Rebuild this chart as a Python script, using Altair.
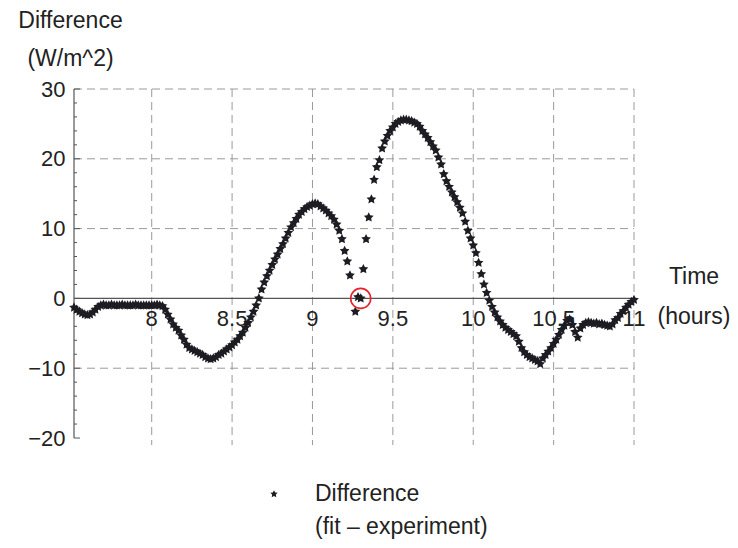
import altair as alt
import pandas as pd

# ---------------- data ----------------
# sample times, minutes after 7:00 (one sample per minute, 7:31 .. 11:00)
minutes = [
    31, 32, 33, 34, 35, 36, 37, 38, 39, 40, 41, 42, 43, 44, 45, 46, 47, 48, 49, 50,
    51, 52, 53, 54, 55, 56, 57, 58, 59, 60, 61, 62, 63, 64, 65, 66, 67, 68, 69, 70,
    71, 72, 73, 74, 75, 76, 77, 78, 79, 80, 81, 82, 83, 84, 85, 86, 87, 88, 89, 90,
    91, 92, 93, 94, 95, 96, 97, 98, 99, 100, 101, 102, 103, 104, 105, 106, 107, 108, 109, 110,
    111, 112, 113, 114, 115, 116, 117, 118, 119, 120, 121, 122, 123, 124, 125, 126, 127, 128, 129, 130,
    131, 132, 133, 134, 136, 137, 138, 139, 140, 141, 142, 143, 144, 145, 146, 147, 148, 149, 150,
    151, 152, 153, 154, 155, 156, 157, 158, 159, 160, 161, 162, 163, 164, 165, 166, 167, 168, 169, 170,
    171, 172, 173, 174, 175, 176, 177, 178, 179, 180, 181, 182, 183, 184, 185, 186, 187, 188, 189, 190,
    191, 192, 193, 194, 195, 196, 197, 198, 199, 200, 201, 202, 203, 204, 205, 206, 207, 208, 209, 210,
    211, 212, 213, 214, 215, 216, 217, 218, 219, 220, 221, 222, 223, 224, 225, 226, 227, 228, 229, 230,
    231, 232, 233, 234, 235, 236, 237, 238, 239, 240,
]
# difference (fit - experiment), W/m^2
difference = [
    -1.3, -1.6, -1.9, -2.1, -2.3, -2.4, -2.3, -2.0, -1.6, -1.2, -1.0, -0.9, -1.0, -1.0, -0.9, -1.0, -1.0, -1.0, -0.9, -1.0,
    -1.0, -1.0, -1.0, -0.9, -1.0, -1.0, -1.0, -1.0, -1.0, -1.0, -1.0, -0.9, -1.0, -1.1, -1.6, -2.3, -3.0, -3.7, -4.2, -4.6,
    -5.3, -5.9, -6.6, -7.1, -7.3, -7.5, -7.7, -7.9, -8.1, -8.4, -8.6, -8.7, -8.6, -8.4, -8.1, -7.9, -7.6, -7.3, -7.0, -6.7,
    -6.3, -5.9, -5.4, -4.9, -4.2, -3.5, -2.7, -1.9, -1.0, 0.0, 1.3, 2.3, 3.2, 4.0, 4.8, 5.6, 6.3, 7.1, 7.8, 8.6,
    9.4, 10.2, 10.8, 11.4, 12.0, 12.4, 12.8, 13.1, 13.3, 13.5, 13.6, 13.5, 13.2, 12.9, 12.6, 12.2, 11.8, 11.3, 10.6, 9.7,
    8.5, 6.8, 5.3, 3.3, -1.9, 0.2, 0.0, 4.2, 8.5, 11.6, 14.2, 17.0, 18.8, 19.8, 21.5, 22.5, 23.3, 24.0, 24.5,
    25.0, 25.3, 25.5, 25.6, 25.6, 25.5, 25.4, 25.2, 25.0, 24.6, 24.0, 23.5, 23.0, 22.4, 21.8, 21.2, 20.2, 19.2, 17.8, 16.8,
    16.0, 15.2, 14.5, 13.8, 13.0, 12.2, 11.0, 9.7, 8.6, 7.6, 6.5, 5.1, 3.5, 2.0, 0.8, -0.3, -1.2, -2.0, -2.7, -3.3,
    -3.8, -4.2, -4.5, -4.8, -5.1, -5.4, -6.2, -7.1, -7.7, -8.1, -8.4, -8.6, -8.8, -9.0, -9.4, -8.6, -8.1, -7.6, -7.1, -6.5,
    -5.9, -5.2, -4.5, -3.9, -3.2, -3.0, -3.8, -4.8, -5.6, -4.3, -3.8, -3.5, -3.4, -3.5, -3.6, -3.5, -3.7, -3.6, -3.8, -3.9,
    -4.0, -3.7, -3.1, -2.8, -2.2, -1.8, -1.3, -0.9, -0.5, -0.2,
]

x_ticks = [8, 8.5, 9, 9.5, 10, 10.5, 11]
x_tick_labels = ["8", "8.5", "9", "9.5", "10", "10.5", "11"]
y_major = [-20, -10, 0, 10, 20, 30]
y_minor = [-18, -16, -14, -12, -8, -6, -4, -2, 2, 4, 6, 8, 12, 14, 16, 18, 22, 24, 26, 28]
y_grid = [-10, 10, 20, 30]
marked_x = [9.3]
marked_y = [0.0]
legend_label = ["Difference\n(fit \u2013 experiment)"]
x_title = ["Time\n(hours)"]

# ---------------- styling ----------------
W, H = 560, 356
FONT = "Liberation Sans"
TXT = "#222222"
STAR = "#1c1c22"
GRID = "#9a9a9a"
AXIS = "#555555"
STAR_PATH = ("M0,-1L0.294,-0.405L0.951,-0.309L0.476,0.155L0.588,0.809L0,0.5"
             "L-0.588,0.809L-0.476,0.155L-0.951,-0.309L-0.294,-0.405Z")

xs = alt.Scale(domain=[7 + minutes[0] / 60, 11], nice=False, zero=False)
ys = alt.Scale(domain=[-21, 30], nice=False, zero=False)

y_axis = alt.Axis(
    values=y_major, format="d", ticks=False, domain=False, grid=False,
    labelFont=FONT, labelFontSize=22, labelColor=TXT, labelPadding=9, labelOverlap=False,
    title=["Difference", "(W/m^2)"], titleAngle=0, titleAlign="center",
    titleBaseline="alphabetic", titleX=-4, titleY=-62, titleFont=FONT,
    titleFontSize=23, titleFontWeight="normal", titleLineHeight=38, titleColor=TXT,
)

df = pd.DataFrame({"hour": [7 + m / 60 for m in minutes], "diff": difference})
df_xt = pd.DataFrame({"x": x_ticks, "y": [0] * len(x_ticks), "label": x_tick_labels})
df_vgrid = pd.DataFrame({"x": x_ticks})
df_hgrid = pd.DataFrame({"y": y_grid})
df_major = pd.DataFrame({"y": y_major})
df_minor = pd.DataFrame({"y": y_minor})
df_mark = pd.DataFrame({"x": marked_x, "y": marked_y})
df_title = pd.DataFrame({"x": [11], "y": [0], "t": x_title})
df_leg = pd.DataFrame({"label": legend_label})

Y = lambda f: alt.Y(f, type="quantitative", scale=ys, axis=y_axis)
X = lambda f: alt.X(f, type="quantitative", scale=xs, axis=None)

vgrid = alt.Chart(df_vgrid).mark_rule(color=GRID, strokeDash=[8, 5], strokeWidth=1).encode(
    x=X("x"), y=alt.value(0), y2=alt.value(H))
hgrid = alt.Chart(df_hgrid).mark_rule(color=GRID, strokeDash=[8, 5], strokeWidth=1).encode(
    y=Y("y"), x=alt.value(0), x2=alt.value(W))
x_line = alt.Chart(pd.DataFrame({"y": [0]})).mark_rule(color=AXIS, strokeWidth=1.2).encode(
    y=Y("y"), x=alt.value(0), x2=alt.value(W))
y_line = alt.Chart(pd.DataFrame({"y": [-20], "y2": [30]})).mark_rule(color=AXIS, strokeWidth=1.2).encode(
    y=Y("y"), y2="y2", x=alt.value(0))
major_t = alt.Chart(df_major).mark_rule(color=AXIS, strokeWidth=1).encode(
    y=Y("y"), x=alt.value(0), x2=alt.value(6))
minor_t = alt.Chart(df_minor).mark_rule(color=AXIS, strokeWidth=1).encode(
    y=Y("y"), x=alt.value(0), x2=alt.value(3))
xlabels = alt.Chart(df_xt).mark_text(font=FONT, fontSize=22, color=TXT, align="center",
                                     baseline="middle", dy=21).encode(
    x=X("x"), y=Y("y"), text="label:N")
xtitle = alt.Chart(df_title).mark_text(font=FONT, fontSize=23, color=TXT, align="center",
                                       baseline="middle", lineBreak="\n", lineHeight=40,
                                       dx=60, dy=-21).encode(
    x=X("x"), y=Y("y"), text="t:N")
stars = alt.Chart(df).mark_point(shape=STAR_PATH, filled=True, size=105, color=STAR, opacity=1).encode(
    x=X("hour"), y=Y("diff"))
circle = alt.Chart(df_mark).mark_point(shape="circle", filled=False, size=400, color="#e3262d",
                                       strokeWidth=1.6, opacity=1).encode(
    x=X("x"), y=Y("y"))
leg_star = alt.Chart(df_leg).mark_point(shape=STAR_PATH, filled=True, size=60, color=STAR, opacity=1).encode(
    x=alt.value(200), y=alt.value(405))
leg_text = alt.Chart(df_leg).mark_text(font=FONT, fontSize=23, color=TXT, align="left",
                                       baseline="middle", lineBreak="\n", lineHeight=33).encode(
    x=alt.value(241), y=alt.value(405), text="label:N")

chart = alt.layer(
    vgrid, hgrid, x_line, y_line, major_t, minor_t, xlabels, xtitle, stars, circle, leg_star, leg_text
).properties(
    width=W, height=H,
    padding={"left": 74, "top": 89, "right": 104, "bottom": 103},
    autosize=alt.AutoSizeParams(type="none"),
    background="white",
).configure_view(stroke=None)

chart.save("out.html", embed_options={"renderer": "svg", "actions": False})
